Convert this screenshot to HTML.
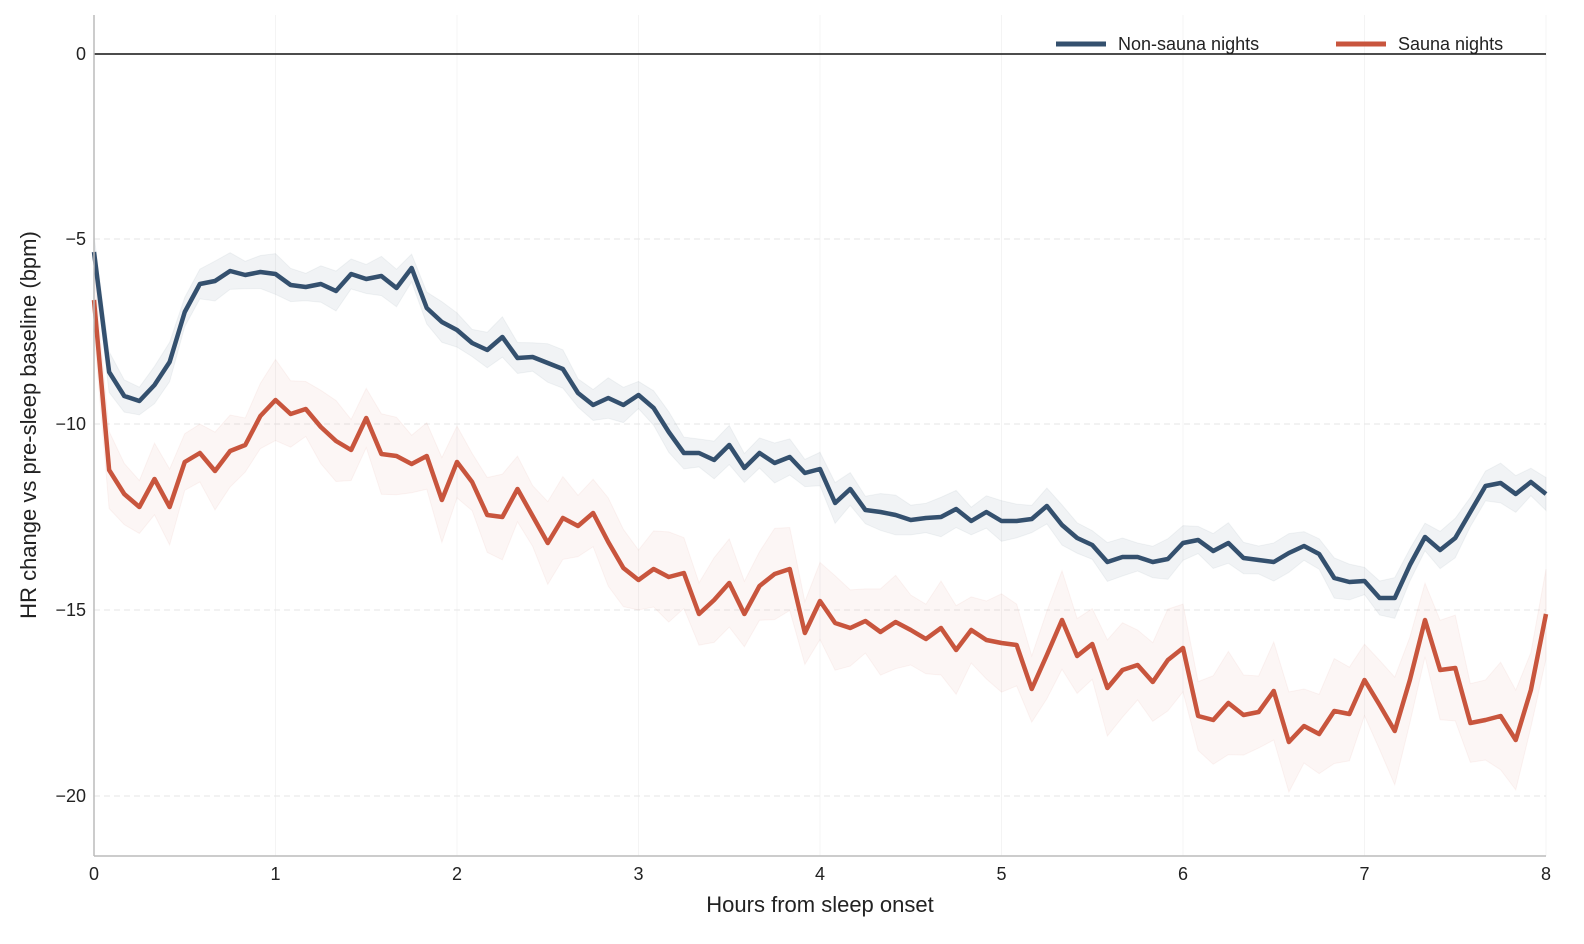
<!DOCTYPE html>
<html><head><meta charset="utf-8"><style>body{margin:0;background:#fff}svg{display:block}text{font-family:"Liberation Sans","DejaVu Sans",sans-serif;fill:#222}</style></head>
<body>
<svg id="s" width="1584" height="944" xmlns="http://www.w3.org/2000/svg">
<g id="grid"></g>
<line x1="94" y1="54" x2="1546" y2="54" stroke="#111" stroke-width="1.5"/>
<g id="data"></g>
<line x1="94" y1="15" x2="94" y2="856" stroke="#bbb" stroke-width="1.5"/>
<line x1="94" y1="856" x2="1546" y2="856" stroke="#bbb" stroke-width="1.5"/>
<g id="ticks" font-size="18"></g>
<text x="820" y="912" font-size="22" text-anchor="middle">Hours from sleep onset</text>
<text transform="translate(36,425) rotate(-90)" font-size="22" text-anchor="middle">HR change vs pre-sleep baseline (bpm)</text>
<line x1="1056" y1="44" x2="1106" y2="44" stroke="#34506e" stroke-width="5"/>
<text x="1118" y="50" font-size="18">Non-sauna nights</text>
<line x1="1336" y1="44" x2="1386" y2="44" stroke="#c8553d" stroke-width="5"/>
<text x="1398" y="50" font-size="18">Sauna nights</text>
</svg>
<script>
var B=[252,372,396,401,385,362,312,284,281,271,275,272,274,285,287,284,291,274,279,276,288,268,308,322,330,343,350,337,358,357,363,369,393,405,398,405,395,408,432,453,453,460,445,468,453,463,457,473,469,503,489,510,512,515,520,518,517,509,521,512,521,521,519,506,525,538,545,562,557,557,562,559,543,540,551,543,558,560,562,553,546,554,578,582,581,598,598,565,537,550,538,512,486,483,494,482,494];
var R=[300,470,494,507,479,507,462,453,471,451,445,416,400,414,409,427,441,450,418,454,456,464,456,500,462,482,515,517,489,516,543,518,526,513,542,568,580,569,577,573,614,600,583,614,586,574,569,633,601,623,628,621,632,622,630,639,628,650,630,640,643,645,689,655,620,656,644,688,670,665,682,660,648,716,720,703,715,712,691,742,726,734,711,714,680,705,731,680,620,670,668,723,720,716,740,690,614];
function X(i){return 94+i*1452/96}
function band(a,f,col,op){var up=[],dn=[];a.forEach(function(y,i){var w=f(i)*(1+0.2*Math.sin(i*1.7));up.push(X(i)+','+(y-w));dn.unshift(X(i)+','+(y+w));});return '<polygon points="'+up.concat(dn).join(' ')+'" fill="'+col+'" fill-opacity="'+op+'" stroke="'+col+'" stroke-opacity="0.06"/>';}
function line(a,col){return '<polyline points="'+a.map(function(y,i){return X(i)+','+y}).join(' ')+'" fill="none" stroke="'+col+'" stroke-width="4.5" stroke-linejoin="round"/>';}
var d=band(B,function(i){return 17},'#34506e',0.07)+band(R,function(i){return 32+i*0.15},'#c8553d',0.05)+line(B,'#34506e')+line(R,'#c8553d');
document.getElementById('data').innerHTML=d;
var g='',t='';
for(var h=0;h<=8;h++){var x=94+h*181.5;g+='<line x1="'+x+'" y1="15" x2="'+x+'" y2="856" stroke="#f4f4f4"/>';t+='<text x="'+x+'" y="880" text-anchor="middle">'+h+'</text>';}
[[0,54],[-5,239],[-10,424],[-15,610],[-20,796]].forEach(function(p){if(p[0]!=0)g+='<line x1="94" y1="'+p[1]+'" x2="1546" y2="'+p[1]+'" stroke="#e6e6e6" stroke-dasharray="6,4"/>';t+='<text x="86" y="'+(p[1]+6)+'" text-anchor="end">'+(p[0]<0?'\u2212'+(-p[0]):p[0])+'</text>';});
document.getElementById('grid').innerHTML=g;document.getElementById('ticks').innerHTML=t;
</script>
</body></html>
